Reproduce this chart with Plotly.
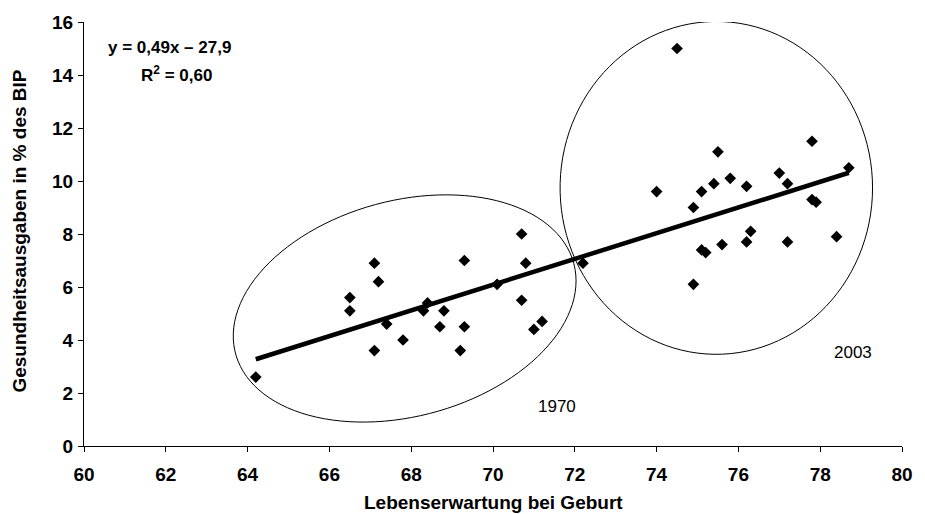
import numpy as np
import plotly.graph_objects as go

# Life expectancy at birth (x) and health spending in % of GDP (y)
x_1970 = [64.2, 67.1, 67.2, 66.5, 66.5, 67.4, 67.8, 67.1, 68.4, 68.3, 68.8,
          68.7, 69.3, 69.3, 69.2, 70.1, 70.7, 70.8, 70.7, 71.2, 71.0, 72.2]
y_1970 = [2.6, 6.9, 6.2, 5.6, 5.1, 4.6, 4.0, 3.6, 5.4, 5.1, 5.1,
          4.5, 7.0, 4.5, 3.6, 6.1, 8.0, 6.9, 5.5, 4.7, 4.4, 6.9]
x_2003 = [74.5, 77.8, 75.5, 78.7, 77.0, 77.2, 75.8, 75.4, 75.1, 74.0, 76.2,
          74.9, 77.8, 77.9, 76.3, 76.2, 77.2, 78.4, 75.6, 75.1, 75.2, 74.9]
y_2003 = [15.0, 11.5, 11.1, 10.5, 10.3, 9.9, 10.1, 9.9, 9.6, 9.6, 9.8,
          9.0, 9.3, 9.2, 8.1, 7.7, 7.7, 7.9, 7.6, 7.4, 7.3, 6.1]

x_ticks = list(range(60, 81, 2))
y_ticks = list(range(0, 17, 2))

equation_text = "y = 0,49x – 27,9"
r2_text = "R<sup>2</sup> = 0,60"
x_title = "Lebenserwartung bei Geburt"
y_title = "Gesundheitsausgaben in % des BIP"

# ellipse parameters (data units): center, first and second half-axis vectors
ell_1970 = dict(c=(67.84, 5.19), u=(4.138, 1.684), v=(-0.662, 3.943))
ell_2003 = dict(c=(75.46, 9.74), u=(3.82, 0.0), v=(0.0, 6.28))

all_x = np.array(x_1970 + x_2003)
all_y = np.array(y_1970 + y_2003)
slope, intercept = np.polyfit(all_x, all_y, 1)
xl = np.array([all_x.min(), all_x.max()])
yl = slope * xl + intercept

FONT = "Liberation Sans, Arial, sans-serif"

fig = go.Figure()
fig.add_trace(go.Scatter(x=xl, y=yl, mode="lines",
                         line=dict(color="black", width=4.5), showlegend=False,
                         hoverinfo="skip"))
fig.add_trace(go.Scatter(x=x_1970, y=y_1970, mode="markers", name="1970",
                         marker=dict(symbol="diamond", size=9, color="black"),
                         showlegend=False))
fig.add_trace(go.Scatter(x=x_2003, y=y_2003, mode="markers", name="2003",
                         marker=dict(symbol="diamond", size=9, color="black"),
                         showlegend=False))


def ellipse_path(e, n=120):
    t = np.linspace(0, 2 * np.pi, n)
    cx, cy = e["c"]
    ux, uy = e["u"]
    vx, vy = e["v"]
    px = cx + ux * np.cos(t) + vx * np.sin(t)
    py = cy + uy * np.cos(t) + vy * np.sin(t)
    return "M " + " L ".join(f"{a:.4f},{b:.4f}" for a, b in zip(px, py)) + " Z"


for e in (ell_1970, ell_2003):
    fig.add_shape(type="path", path=ellipse_path(e), xref="x", yref="y",
                  line=dict(color="black", width=1), layer="below")

fig.add_annotation(x=62.1, y=15.04, text=equation_text, showarrow=False,
                   font=dict(family=FONT, size=17, color="black", weight="bold"))
fig.add_annotation(x=62.25, y=14.05, text=r2_text, showarrow=False,
                   font=dict(family=FONT, size=17, color="black", weight="bold"))
fig.add_annotation(x=71.57, y=1.5, text="1970", showarrow=False,
                   font=dict(family=FONT, size=17, color="black"))
fig.add_annotation(x=78.79, y=3.53, text="2003", showarrow=False,
                   font=dict(family=FONT, size=17, color="black"))

fig.add_annotation(xref="paper", yref="paper", x=0.5, y=-0.134, text=x_title,
                   showarrow=False, yanchor="middle",
                   font=dict(family=FONT, size=19, color="black", weight="bold"))
fig.add_annotation(xref="paper", yref="paper", x=-0.08, y=0.507, text=y_title,
                   showarrow=False, textangle=-90, xanchor="center",
                   font=dict(family=FONT, size=19, color="black", weight="bold"))

axis_common = dict(showgrid=False, zeroline=False, showline=True,
                   linecolor="black", linewidth=1, ticks="outside",
                   ticklen=5, tickcolor="black", tickwidth=1,
                   tickfont=dict(family=FONT, size=19, color="black", weight="bold"))

fig.update_layout(
    width=925, height=514,
    margin=dict(l=84, r=13, t=20, b=68),
    plot_bgcolor="white", paper_bgcolor="white",
    xaxis=dict(range=[60, 80], tickvals=x_ticks, ticklabelstandoff=6, **axis_common),
    yaxis=dict(range=[0, 16], tickvals=y_ticks, ticklabelstandoff=1, **axis_common),
)

# remove the default page margin so the figure fills the 925x514 window exactly
fig.write_html("out.html",
               config={"displayModeBar": False},
               post_script="document.body.style.margin='0';"
                           "document.body.style.overflow='hidden';")
